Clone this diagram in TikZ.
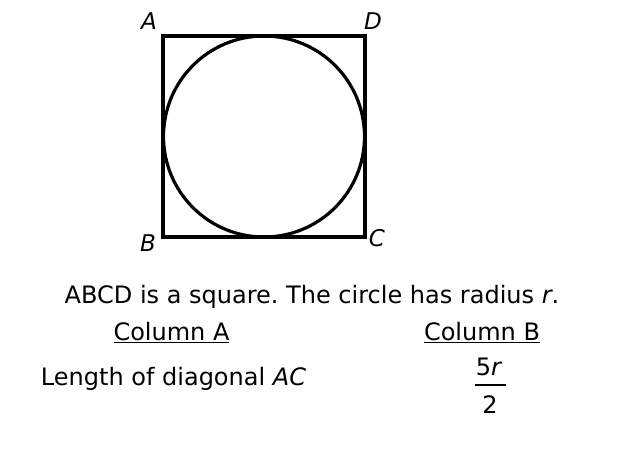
\documentclass[tikz,border=0pt]{standalone}
\usepackage{fontspec}
\setmainfont{DejaVu Sans}
\frenchspacing
\tikzset{
  lbl/.style={font=\fontsize{23}{27}\selectfont\itshape, inner sep=0pt},
  txt/.style={font=\fontsize{24}{28}\selectfont, inner sep=0pt, anchor=base},
  fig/.style={line width=3.2pt}
}
\begin{document}
\begin{tikzpicture}[x=1pt,y=-1pt]
\useasboundingbox (0,0) rectangle (620,464);
\coordinate (A) at (163,36);
\coordinate (B) at (163,237);
\coordinate (C) at (365,237);
\coordinate (D) at (365,36);
\coordinate (O) at (264,136.5);
\draw[fig] (A) -- (B) -- (C) -- (D) -- cycle;
\draw[fig] (O) circle[radius=100.5];
\node[lbl] (la) at (149,21) {A};
\node[lbl] (ld) at (373,21) {D};
\node[lbl] (lb) at (148,243) {B};
\node[lbl] (lc) at (377,238) {C};
\node[txt] (t1) at (312,303) {ABCD is a square. The circle has radius \textit{r}.};
\node[txt] (ca) at (171.5,340) {\underline{Column A}};
\node[txt] (cb) at (482,340) {\underline{Column B}};
\node[txt] (la2) at (173.5,385) {Length of diagonal \textit{AC}};
\node[txt] (num) at (489,375) {5\textit{r}};
\node[txt] (den) at (490,413) {2};
\coordinate (f1) at (475,385);
\coordinate (f2) at (506,385);
\draw[line width=1.8pt] (f1) -- (f2);
\end{tikzpicture}
\end{document}
